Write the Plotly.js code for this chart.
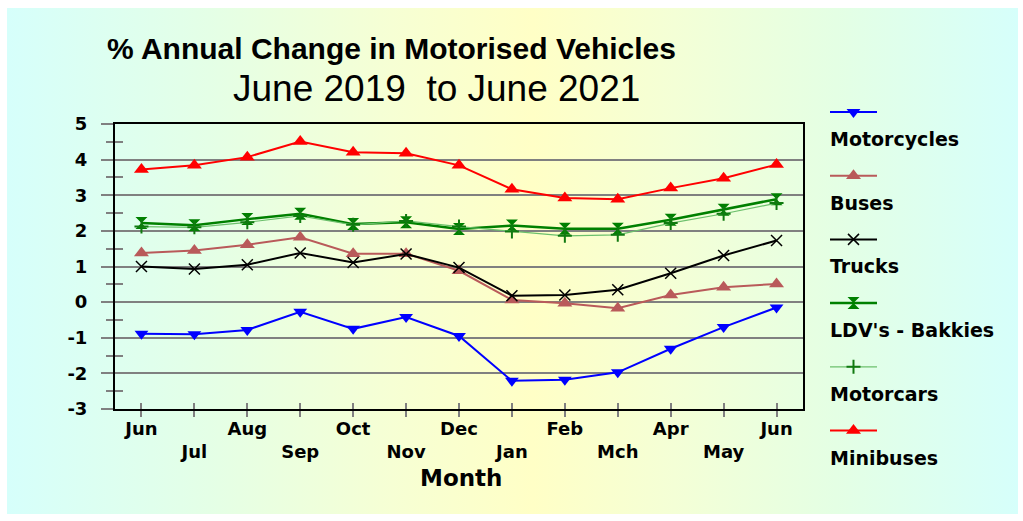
<!DOCTYPE html>
<html>
<head>
<meta charset="utf-8">
<script src="https://cdn.plot.ly/plotly-3.0.1.min.js"></script>
<style>
html, body { margin: 0; padding: 0; background: #ffffff; }
#bg { position: absolute; left: 7px; top: 8px; width: 1011px; height: 506px;
  background: linear-gradient(to right, #d6fffb 0%, #e4ffe6 20%, #f6ffd4 38%, #ffffc6 52%, #f4ffd6 66%, #e4ffe4 82%, #d6fffb 100%); }
#chart { position: absolute; left: 0; top: 0; width: 1023px; height: 521px; }
</style>
</head>
<body>
<div id="bg"></div>
<div id="chart"></div>
<script>
// ---- data ----
const months = ['Jun','Jul','Aug','Sep','Oct','Nov','Dec','Jan','Feb','Mch','Apr','May','Jun'];
const motorcycles = [-0.89, -0.90, -0.78, -0.27, -0.75, -0.42, -0.95, -2.21, -2.18, -1.97, -1.31, -0.70, -0.15];
const buses       = [1.38, 1.45, 1.61, 1.82, 1.36, 1.36, 0.88, 0.06, -0.03, -0.17, 0.20, 0.42, 0.51];
const trucks      = [1.00, 0.93, 1.05, 1.38, 1.11, 1.35, 0.97, 0.18, 0.20, 0.35, 0.81, 1.31, 1.73];
const ldvBakkies  = [2.22, 2.16, 2.33, 2.48, 2.19, 2.24, 2.05, 2.15, 2.06, 2.06, 2.31, 2.59, 2.89];
const motorcars   = [2.12, 2.10, 2.24, 2.42, 2.17, 2.28, 2.12, 1.98, 1.86, 1.89, 2.22, 2.48, 2.78];
const minibuses   = [3.72, 3.84, 4.07, 4.51, 4.21, 4.18, 3.84, 3.17, 2.92, 2.89, 3.20, 3.48, 3.86];
const seriesNames = ['Motorcycles', 'Buses', 'Trucks', "LDV's - Bakkies", 'Motorcars', 'Minibuses'];
const seriesData  = [motorcycles, buses, trucks, ldvBakkies, motorcars, minibuses];
const yTickVals = [-3, -2, -1, 0, 1, 2, 3, 4, 5];
const titleText = '% Annual Change in Motorised Vehicles';
const subtitleText = 'June 2019\u00a0 to June 2021';
const xTitleText = 'Month';

// ---- styles ----
const styles = [
  { line: { color: '#0000ff', width: 2 }, marker: { symbol: 'triangle-down', size: 12, color: '#0000ff' } },
  { line: { color: '#b95a5a', width: 2 }, marker: { symbol: 'triangle-up', size: 13, color: '#b95a5a' } },
  { line: { color: '#000000', width: 2 }, marker: { symbol: 'x-thin', size: 11, color: '#000000', line: { color: '#000000', width: 1.5 } } },
  { line: { color: '#008000', width: 2.5 }, marker: { symbol: 'hourglass', size: 12, color: '#008000' } },
  { line: { color: '#6cc06c', width: 1.2 }, marker: { symbol: 'cross-thin', size: 10, color: '#107a10', line: { color: '#107a10', width: 2 } } },
  { line: { color: '#ff0000', width: 2 }, marker: { symbol: 'triangle-up', size: 13, color: '#ff0000' } }
];

// ---- geometry (pixel frame) ----
const W = 1023, H = 521;
const M = { l: 10, r: 5, t: 10, b: 10 };
const PX0 = M.l, PX1 = W - M.r, PY0 = M.t, PY1 = H - M.b;
const fx = px => (px - PX0) / (PX1 - PX0);
const fy = py => (PY1 - py) / (PY1 - PY0);
const plotL = 115, plotR = 803, plotT = 124, plotB = 409;
const xDom = [fx(plotL), fx(plotR)];
const yDom = [fy(plotB), fy(plotT)];
const xIdx = months.map((m, i) => i);
const xRange = [-0.5, months.length - 0.5];
const yRange = [-3, 5];

const labelFont = 'DejaVu Sans, Verdana, sans-serif';
const arialFont = 'Liberation Sans, Arial, sans-serif';

const traces = [];
seriesData.forEach((d, i) => {
  traces.push({
    type: 'scatter', mode: 'lines+markers', name: seriesNames[i],
    x: xIdx, y: d, xaxis: 'x', yaxis: 'y',
    line: styles[i].line, marker: styles[i].marker,
    showlegend: false, cliponaxis: false
  });
});

// dummy trace so overlay tick axes render
traces.push({ type: 'scatter', x: [], y: [], xaxis: 'x2', yaxis: 'y2', showlegend: false, hoverinfo: 'skip' });

// ---- custom legend (sample above, name below) ----
const legX0 = 830, legX1 = 877, legTop = 112, legStep = 63.7, legTextOff = 27;
const annotations = [];
seriesNames.forEach((name, i) => {
  const ly = legTop + i * legStep;
  traces.push({
    type: 'scatter', mode: 'lines', x: [legX0, legX1], y: [ly, ly], xaxis: 'x3', yaxis: 'y3',
    line: styles[i].line, showlegend: false, hoverinfo: 'skip'
  });
  traces.push({
    type: 'scatter', mode: 'markers', x: [(legX0 + legX1) / 2], y: [ly], xaxis: 'x3', yaxis: 'y3',
    marker: styles[i].marker, showlegend: false, hoverinfo: 'skip'
  });
  annotations.push({
    xref: 'x3', yref: 'y3', x: legX0 - 2, y: ly + legTextOff, text: name, showarrow: false,
    xanchor: 'left', yanchor: 'middle', font: { family: labelFont, size: 19, color: '#000', weight: 'bold' }
  });
});

annotations.push({
  xref: 'x3', yref: 'y3', x: 436, y: 88, text: subtitleText, showarrow: false,
  xanchor: 'center', yanchor: 'middle', font: { family: arialFont, size: 37, color: '#000' }
});
annotations.push({
  xref: 'x3', yref: 'y3', x: 461, y: 478, text: '<b>' + xTitleText + '</b>', showarrow: false,
  xanchor: 'center', yanchor: 'middle', font: { family: labelFont, size: 23, color: '#000' }
});

const tickText = months.map((m, i) => (i % 2 === 1 ? '<br>' : '') + '<b>' + m + '</b>');
const gray = '#808080';

const layout = {
  width: W, height: H,
  margin: M,
  paper_bgcolor: 'rgba(0,0,0,0)',
  plot_bgcolor: 'rgba(0,0,0,0)',
  showlegend: false,
  title: {
    text: '<b>' + titleText + '</b>',
    xref: 'container', yref: 'container',
    x: 391.5 / W, y: 1 - 48 / H, xanchor: 'center', yanchor: 'middle',
    font: { family: arialFont, size: 30, color: '#000' }
  },
  xaxis: {
    domain: xDom, range: xRange, anchor: 'y',
    tickmode: 'array', tickvals: xIdx, ticktext: tickText,
    ticks: 'outside', ticklen: 6, tickwidth: 2, tickcolor: gray,
    tickfont: { family: labelFont, size: 18, color: '#000' },
    ticklabelstandoff: -4,
    showgrid: false, zeroline: false,
    showline: true, linecolor: '#000', linewidth: 2, mirror: true,
    fixedrange: true
  },
  yaxis: {
    domain: yDom, range: yRange, anchor: 'x',
    tickmode: 'array', tickvals: yTickVals, ticktext: yTickVals.map(v => '<b>' + v + '</b>'),
    ticks: 'outside', ticklen: 12, tickwidth: 2, tickcolor: gray,
    minor: { dtick: 0.5, ticks: 'outside', ticklen: 7, tickwidth: 2, tickcolor: gray, showgrid: false },
    tickfont: { family: labelFont, size: 18, color: '#000' },
    ticklabelstandoff: 10,
    showgrid: true, gridcolor: gray, gridwidth: 2, zeroline: false,
    showline: true, linecolor: '#000', linewidth: 2, mirror: true,
    fixedrange: true
  },
  xaxis2: {
    overlaying: 'x', anchor: 'y', domain: xDom, range: xRange,
    tickmode: 'array', tickvals: xIdx,
    ticks: 'inside', ticklen: 6, tickwidth: 2, tickcolor: gray,
    showticklabels: false, showgrid: false, zeroline: false, showline: false, fixedrange: true
  },
  yaxis2: {
    overlaying: 'y', anchor: 'x', domain: yDom, range: yRange, side: 'left',
    tickmode: 'array', tickvals: yTickVals,
    ticks: 'inside', ticklen: 8, tickwidth: 2, tickcolor: gray,
    minor: { dtick: 0.5, ticks: 'inside', ticklen: 8, tickwidth: 2, tickcolor: gray, showgrid: false },
    showticklabels: false, showgrid: false, zeroline: false, showline: false, fixedrange: true
  },
  xaxis3: { domain: [0, 1], range: [PX0, PX1], anchor: 'y3', visible: false, fixedrange: true },
  yaxis3: { domain: [0, 1], range: [PY1, PY0], anchor: 'x3', visible: false, fixedrange: true },
  annotations: annotations
};

Plotly.newPlot('chart', traces, layout, { staticPlot: true, displayModeBar: false });
</script>
</body>
</html>
